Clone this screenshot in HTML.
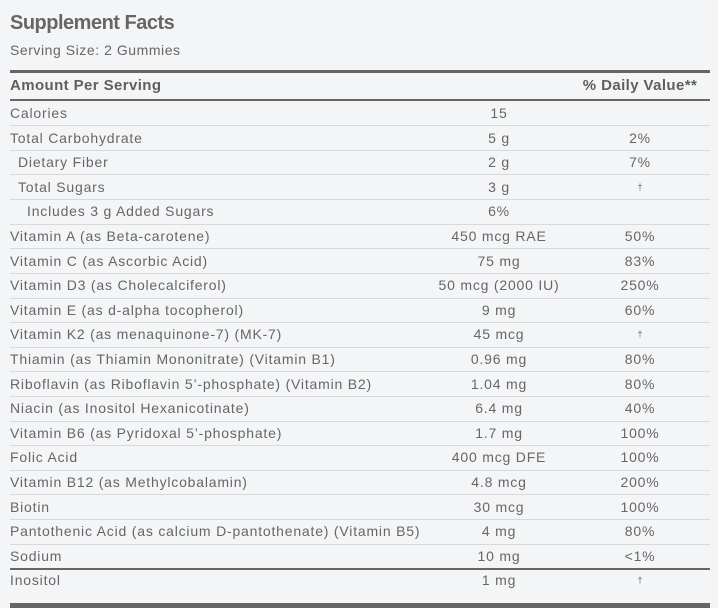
<!DOCTYPE html>
<html>
<head>
<meta charset="utf-8">
<style>
  html, body { margin:0; padding:0; }
  body { width:718px; height:608px; background:#f4f5f7; position:relative; overflow:hidden;
         font-family:"Liberation Sans", Arial, sans-serif; color:#666; }
  .t { position:absolute; white-space:nowrap; font-size:14px; line-height:24px; letter-spacing:0.8px; }
  .c2 { left:399px; width:200px; text-align:center; }
  .c3 { left:570px; width:140px; text-align:center; }
  .c1 { left:10px; }
  .ln { position:absolute; left:10px; width:700px; height:1px; background:#d8d9db; }
  .thk { position:absolute; left:10px; width:700px; background:#666; }
  .dag { font-size:9px; vertical-align:3px; letter-spacing:0; }
</style>
</head>
<body>
<div style="position:absolute;left:10px;top:10.6px;font-size:20px;line-height:24px;font-weight:bold;letter-spacing:-0.5px;color:#666;">Supplement Facts</div>
<div style="position:absolute;left:10px;top:40px;font-size:14px;line-height:20px;letter-spacing:0.55px;color:#666;">Serving Size: 2 Gummies</div>

<div class="thk" style="top:70px;height:3px;"></div>
<div style="position:absolute;left:10px;top:76px;font-size:15px;line-height:20px;font-weight:bold;letter-spacing:0.4px;color:#5f5f5f;">Amount Per Serving</div>
<div style="position:absolute;left:570px;width:140px;text-align:center;top:76px;font-size:15px;line-height:20px;font-weight:bold;letter-spacing:0.4px;color:#5f5f5f;">% Daily Value**</div>
<div class="thk" style="top:99px;height:2px;"></div>

<!-- rows -->
<div class="t c1" style="top:101px">Calories</div><div class="t c2" style="top:101px">15</div>
<div class="ln" style="top:125px"></div>
<div class="t c1" style="top:125.6px">Total Carbohydrate</div><div class="t c2" style="top:125.6px">5 g</div><div class="t c3" style="top:125.6px">2%</div>
<div class="ln" style="top:150px"></div>
<div class="t c1" style="top:150.2px;left:18px">Dietary Fiber</div><div class="t c2" style="top:150.2px">2 g</div><div class="t c3" style="top:150.2px">7%</div>
<div class="ln" style="top:174px"></div>
<div class="t c1" style="top:174.8px;left:18px">Total Sugars</div><div class="t c2" style="top:174.8px">3 g</div><div class="t c3" style="top:174.8px"><span class="dag">†</span></div>
<div class="ln" style="top:199px"></div>
<div class="t c1" style="top:199.4px;left:27px">Includes 3 g Added Sugars</div><div class="t c2" style="top:199.4px">6%</div>
<div class="ln" style="top:224px"></div>
<div class="t c1" style="top:224px">Vitamin A (as Beta-carotene)</div><div class="t c2" style="top:224px">450 mcg RAE</div><div class="t c3" style="top:224px">50%</div>
<div class="ln" style="top:248px"></div>
<div class="t c1" style="top:248.6px">Vitamin C (as Ascorbic Acid)</div><div class="t c2" style="top:248.6px">75 mg</div><div class="t c3" style="top:248.6px">83%</div>
<div class="ln" style="top:273px"></div>
<div class="t c1" style="top:273.2px">Vitamin D3 (as Cholecalciferol)</div><div class="t c2" style="top:273.2px">50 mcg (2000 IU)</div><div class="t c3" style="top:273.2px">250%</div>
<div class="ln" style="top:298px"></div>
<div class="t c1" style="top:297.8px">Vitamin E (as d-alpha tocopherol)</div><div class="t c2" style="top:297.8px">9 mg</div><div class="t c3" style="top:297.8px">60%</div>
<div class="ln" style="top:322px"></div>
<div class="t c1" style="top:322.4px">Vitamin K2 (as menaquinone-7) (MK-7)</div><div class="t c2" style="top:322.4px">45 mcg</div><div class="t c3" style="top:322.4px"><span class="dag">†</span></div>
<div class="ln" style="top:347px"></div>
<div class="t c1" style="top:347px">Thiamin (as Thiamin Mononitrate) (Vitamin B1)</div><div class="t c2" style="top:347px">0.96 mg</div><div class="t c3" style="top:347px">80%</div>
<div class="ln" style="top:371px"></div>
<div class="t c1" style="top:371.6px">Riboflavin (as Riboflavin 5’-phosphate) (Vitamin B2)</div><div class="t c2" style="top:371.6px">1.04 mg</div><div class="t c3" style="top:371.6px">80%</div>
<div class="ln" style="top:396px"></div>
<div class="t c1" style="top:396.2px">Niacin (as Inositol Hexanicotinate)</div><div class="t c2" style="top:396.2px">6.4 mg</div><div class="t c3" style="top:396.2px">40%</div>
<div class="ln" style="top:421px"></div>
<div class="t c1" style="top:420.8px">Vitamin B6 (as Pyridoxal 5’-phosphate)</div><div class="t c2" style="top:420.8px">1.7 mg</div><div class="t c3" style="top:420.8px">100%</div>
<div class="ln" style="top:445px"></div>
<div class="t c1" style="top:445.4px">Folic Acid</div><div class="t c2" style="top:445.4px">400 mcg DFE</div><div class="t c3" style="top:445.4px">100%</div>
<div class="ln" style="top:470px"></div>
<div class="t c1" style="top:470px">Vitamin B12 (as Methylcobalamin)</div><div class="t c2" style="top:470px">4.8 mcg</div><div class="t c3" style="top:470px">200%</div>
<div class="ln" style="top:494px"></div>
<div class="t c1" style="top:494.6px">Biotin</div><div class="t c2" style="top:494.6px">30 mcg</div><div class="t c3" style="top:494.6px">100%</div>
<div class="ln" style="top:519px"></div>
<div class="t c1" style="top:519.2px">Pantothenic Acid (as calcium D-pantothenate) (Vitamin B5)</div><div class="t c2" style="top:519.2px">4 mg</div><div class="t c3" style="top:519.2px">80%</div>
<div class="ln" style="top:544px"></div>
<div class="t c1" style="top:543.8px">Sodium</div><div class="t c2" style="top:543.8px">10 mg</div><div class="t c3" style="top:543.8px">&lt;1%</div>
<div class="thk" style="top:568px;height:2px;"></div>
<div class="t c1" style="top:568px">Inositol</div><div class="t c2" style="top:568px">1 mg</div><div class="t c3" style="top:568px"><span class="dag">†</span></div>

<div class="thk" style="top:603px;height:5px;"></div>
</body>
</html>
